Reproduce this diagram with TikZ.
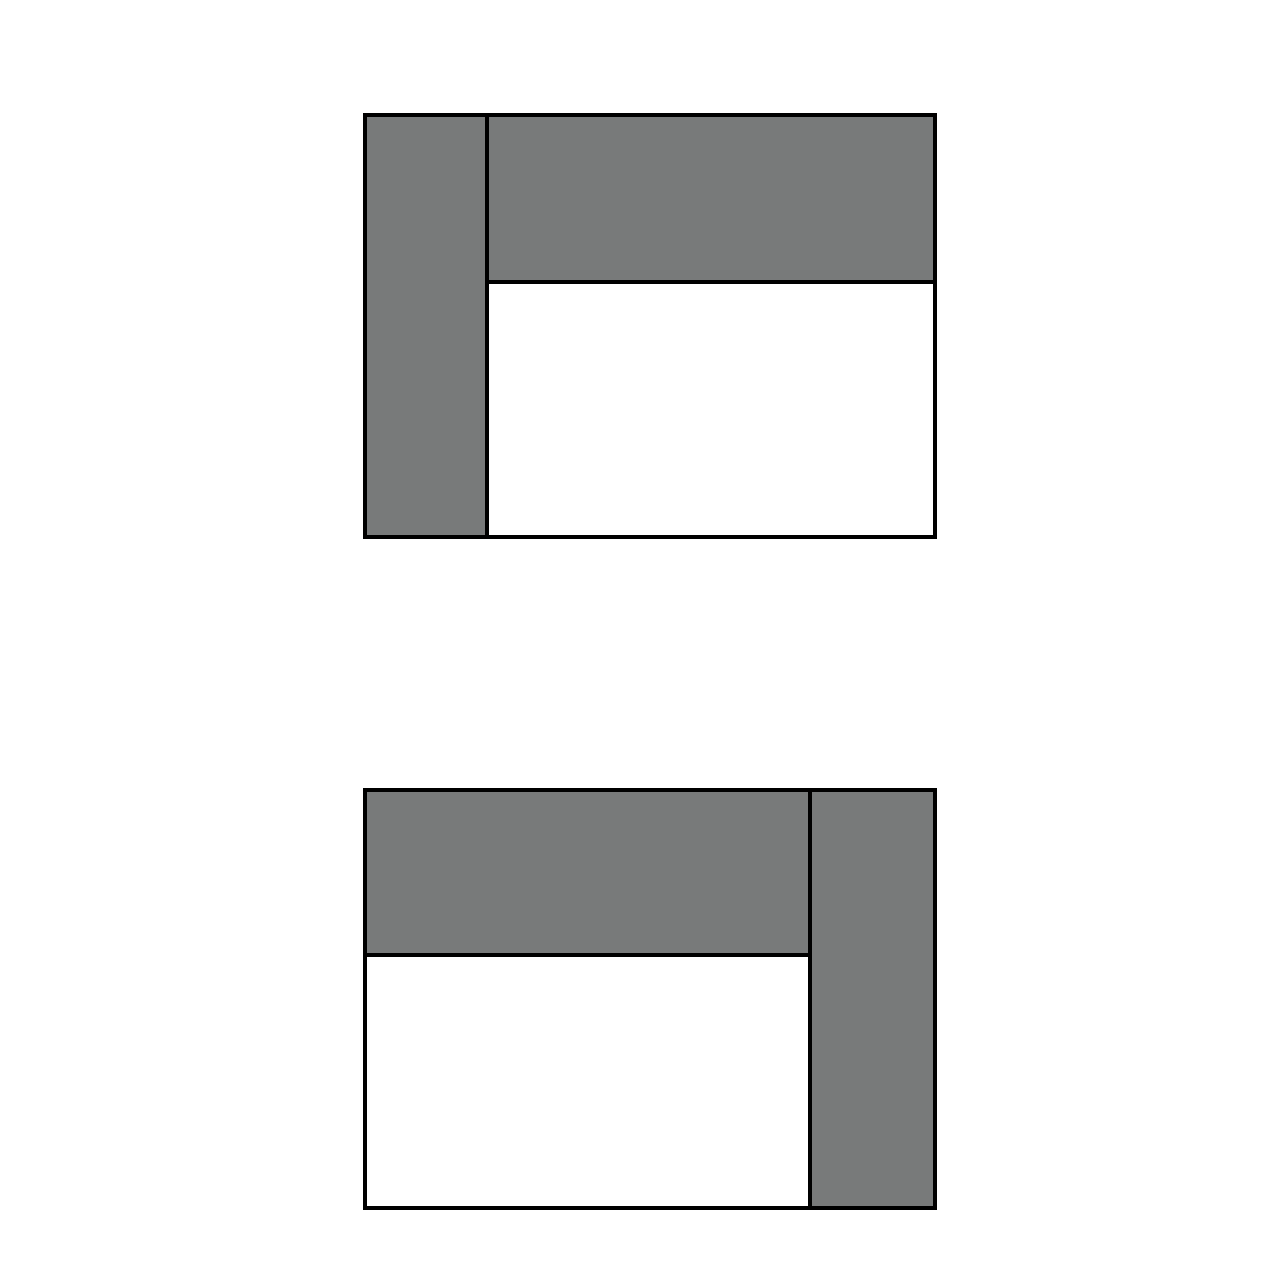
\documentclass[tikz,border=0pt]{standalone}
\usepackage{xcolor}
\definecolor{slab}{RGB}{120,122,122}
\begin{document}
\begin{tikzpicture}[line width=0.4mm]
		% \draw[help lines] (0,0) grid (12.8,12.8);
		\useasboundingbox (0,0) rectangle (12.8,12.8);

		% upper plan
		\fill[slab] (3.65,7.43) rectangle (4.87,11.65);
		\fill[slab] (4.87,9.98) rectangle (9.35,11.65);
		\draw (3.65,7.43) rectangle (9.35,11.65);
		\draw (4.87,7.43) -- (4.87,11.65);
		\draw (4.87,9.98) -- (9.35,9.98);

		% lower plan
		\fill[slab] (8.10,0.72) rectangle (9.35,4.90);
		\fill[slab] (3.65,3.25) rectangle (8.10,4.90);
		\draw (3.65,0.72) rectangle (9.35,4.90);
		\draw (8.10,0.72) -- (8.10,4.90);
		\draw (3.65,3.25) -- (8.10,3.25);
	\end{tikzpicture}
\end{document}
